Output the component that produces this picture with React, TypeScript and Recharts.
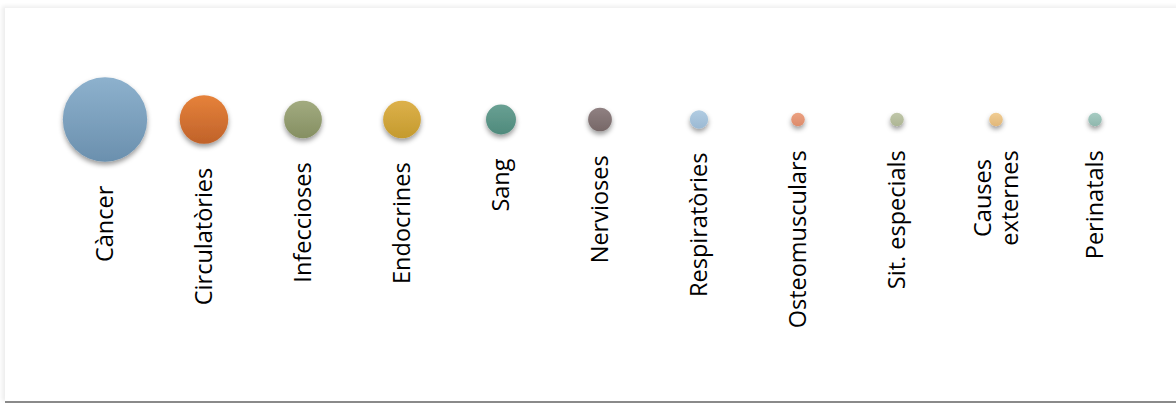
import React from 'react';
import { ScatterChart, Scatter, XAxis, YAxis, ZAxis } from 'recharts';

const categories = [
  'Càncer',
  'Circulatòries',
  'Infeccioses',
  'Endocrines',
  'Sang',
  'Nervioses',
  'Respiratòries',
  'Osteomusculars',
  'Sit. especials',
  'Causes\nexternes',
  'Perinatals',
];
const values = [100, 33, 20, 20, 12.6, 7.9, 4.7, 2.6, 2.6, 2.6, 2.6];
const topColors = ['#8db1cd', '#e6823a', '#a2ab80', '#ddb14b', '#69a093', '#908182', '#b1cce2', '#eca181', '#c0c7a9', '#f1cd93', '#a7ccc3'];
const bottomColors = ['#6b90ae', '#c0622a', '#858f62', '#c49a2e', '#4f8a7c', '#766767', '#9bb9d3', '#dc8b6b', '#adb594', '#e1b779', '#8fb7ad'];

const data = categories.map((name, i) => ({ i, y: 1, v: values[i], name }));

const FONT_SIZE = 23.5;
const FONT_FAMILY = "'Open Sans', sans-serif";

let ctx: CanvasRenderingContext2D | null = null;
function measure(s: string): number {
  if (typeof document === 'undefined') return s.length * FONT_SIZE * 0.5;
  if (!ctx) {
    const c = document.createElement('canvas');
    ctx = c.getContext('2d');
  }
  if (!ctx) return s.length * FONT_SIZE * 0.5;
  ctx.font = `${FONT_SIZE}px 'Open Sans'`;
  return ctx.measureText(s).width;
}

const Bubble = (props: any) => {
  const { cx, cy, payload, size, width } = props;
  if (cx == null || cy == null) return null;
  const r = size != null ? Math.sqrt(size / Math.PI) : (width || 0) / 2;
  const idx = payload.i;
  const top = cy + r + 24;
  const lines: string[] = String(payload.name).split('\n');
  const lineGap = 27.5;
  const n = lines.length;
  const maxLen = Math.max(...lines.map(measure));
  return (
    <g>
      <circle cx={cx} cy={cy} r={r} fill={`url(#bg${idx})`} filter="url(#bshadow)" />
      {lines.map((ln, k) => {
        const off = (k - (n - 1) / 2) * lineGap;
        const x = cx + off;
        const yy = n > 1 ? top + maxLen / 2 : top;
        return (
          <text
            key={k}
            x={x}
            y={yy}
            transform={`rotate(-90, ${x}, ${yy})`}
            textAnchor={n > 1 ? 'middle' : 'end'}
            dy="0.36em"
            fontSize={FONT_SIZE}
            fontFamily={FONT_FAMILY}
            fill="#000"
          >
            {ln}
          </text>
        );
      })}
    </g>
  );
};

export default function App() {
  return (
    <div style={{ position: 'absolute', left: 0, top: 0, width: 1176, height: 403, background: '#fff', overflow: 'hidden' }}>
      <div
        style={{
          position: 'absolute',
          left: 5,
          top: 8,
          width: 1200,
          height: 393,
          background: '#fff',
          boxShadow: '-3px -2px 4px rgba(0,0,0,0.07)',
          borderBottom: '2px solid #8a8a8a',
        }}
      />
      <div style={{ position: 'absolute', left: 0, top: 0 }}>
        <ScatterChart width={1176} height={403} margin={{ top: 20, right: 31.5, bottom: 184, left: 55.5 }}>
          <defs>
            {topColors.map((c, i) => (
              <linearGradient key={i} id={`bg${i}`} x1="0" y1="0" x2="0" y2="1">
                <stop offset="0%" stopColor={c} />
                <stop offset="100%" stopColor={bottomColors[i]} />
              </linearGradient>
            ))}
            <filter id="bshadow" x="-50%" y="-50%" width="200%" height="200%">
              <feDropShadow dx="0" dy="3" stdDeviation="2.5" floodColor="#000" floodOpacity="0.4" />
            </filter>
          </defs>
          <XAxis type="number" dataKey="i" domain={[-0.5, 10.5]} hide />
          <YAxis type="number" dataKey="y" domain={[0, 2]} hide />
          <ZAxis type="number" dataKey="v" domain={[0, 100]} range={[0, Math.PI * 42.2 * 42.2]} />
          <Scatter data={data} shape={<Bubble />} isAnimationActive={false} />
        </ScatterChart>
      </div>
    </div>
  );
}
